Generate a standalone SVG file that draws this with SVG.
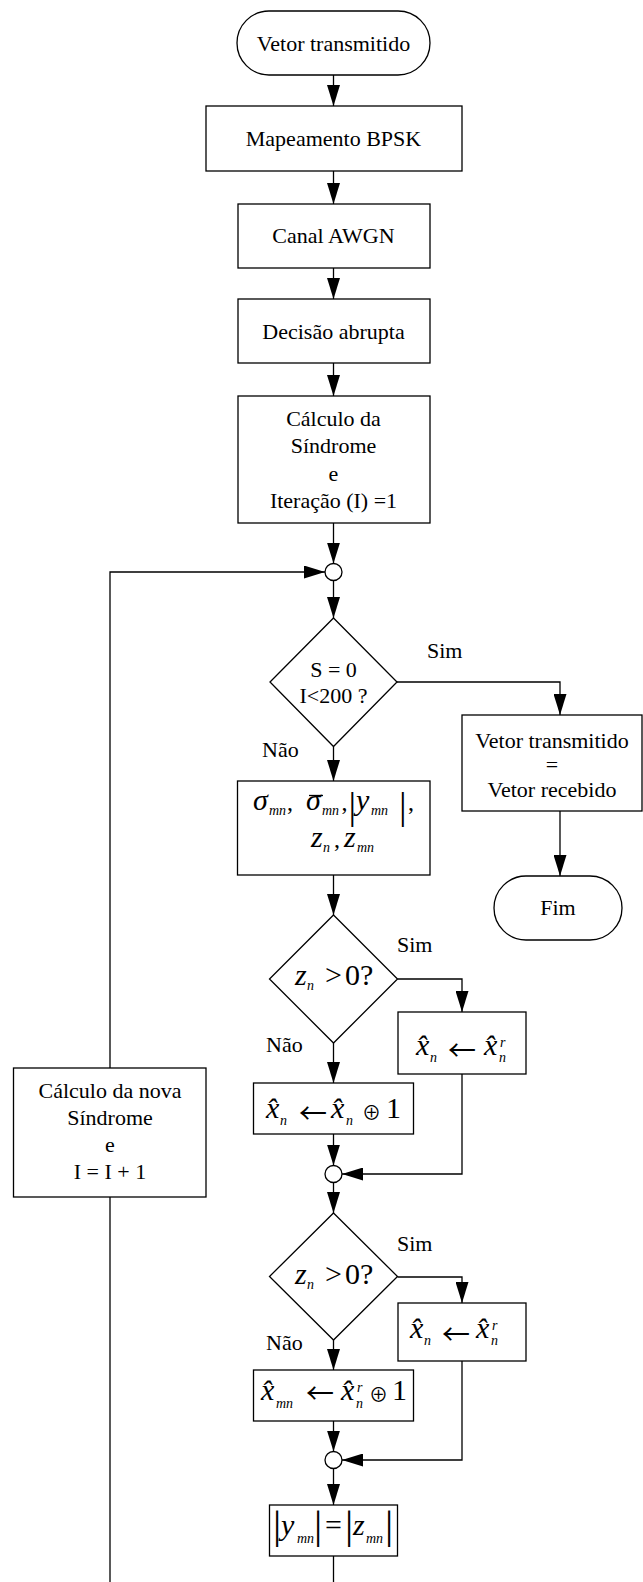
<svg xmlns="http://www.w3.org/2000/svg" width="643" height="1582" viewBox="0 0 643 1582">
<style>
.n{fill:#fff;stroke:#000;stroke-width:1.3}
.c{fill:none;stroke:#000;stroke-width:1.3}
.t{font-family:"Liberation Serif",serif;font-size:22px;text-anchor:middle;fill:#000}
.l{font-family:"Liberation Serif",serif;font-size:22px;fill:#000}
.m{font-family:"Liberation Serif",serif;font-size:30px;font-style:italic;fill:#000}
.s{font-size:14px;font-style:italic}
.u{font-style:normal}
.cm{font-style:normal;font-size:24px}
.ar{font-family:"Noto Sans CJK SC",sans-serif;font-size:28px;font-style:normal}
.op{font-family:"Noto Sans CJK SC",sans-serif;font-size:19px;font-style:normal}
.b{font-style:normal;font-size:38px}
.bb{font-style:normal;font-size:41px}
</style>
<defs>
<marker id="ah" markerUnits="userSpaceOnUse" markerWidth="21" markerHeight="13" refX="21" refY="6.5" orient="auto" viewBox="0 0 21 13">
<path d="M0,0 L21,6.5 L0,13 z" fill="#000"/>
</marker>
</defs>
<g id="connectors">
<path class="c" d="M333.5,75 V106" marker-end="url(#ah)"/>
<path class="c" d="M333.5,171 V204" marker-end="url(#ah)"/>
<path class="c" d="M333.5,268 V299" marker-end="url(#ah)"/>
<path class="c" d="M333.5,363 V396" marker-end="url(#ah)"/>
<path class="c" d="M333.5,523 V563.5" marker-end="url(#ah)"/>
<path class="c" d="M110,1068 V572 H325" marker-end="url(#ah)"/>
<path class="c" d="M110,1582 V1197"/>
<path class="c" d="M333.5,580.5 V618" marker-end="url(#ah)"/>
<path class="c" d="M397,682 H560 V715" marker-end="url(#ah)"/>
<path class="c" d="M333.5,746.5 V781" marker-end="url(#ah)"/>
<path class="c" d="M560,811 V876" marker-end="url(#ah)"/>
<path class="c" d="M333.5,875 V915" marker-end="url(#ah)"/>
<path class="c" d="M397.5,979 H462 V1012" marker-end="url(#ah)"/>
<path class="c" d="M333.5,1043 V1083" marker-end="url(#ah)"/>
<path class="c" d="M333.5,1134 V1165.5" marker-end="url(#ah)"/>
<path class="c" d="M462,1074 V1174 H342" marker-end="url(#ah)"/>
<path class="c" d="M333.5,1182.5 V1213" marker-end="url(#ah)"/>
<path class="c" d="M397.5,1277 H462 V1303" marker-end="url(#ah)"/>
<path class="c" d="M333.5,1340 V1370" marker-end="url(#ah)"/>
<path class="c" d="M333.5,1421 V1451.5" marker-end="url(#ah)"/>
<path class="c" d="M462,1361 V1460 H342" marker-end="url(#ah)"/>
<path class="c" d="M333.5,1468.5 V1505" marker-end="url(#ah)"/>
<path class="c" d="M333.5,1556 V1582"/>
<text class="l" x="427" y="658">Sim</text>
<text class="l" x="262" y="757">Não</text>
<text class="l" x="397" y="952">Sim</text>
<text class="l" x="266" y="1052">Não</text>
<text class="l" x="397" y="1251">Sim</text>
<text class="l" x="266" y="1350">Não</text>
</g>
<g id="start">
<rect class="n" x="237" y="11" width="193" height="64" rx="32" ry="32"/>
<text class="t" x="333.5" y="50.5">Vetor transmitido</text>
</g>
<g id="bpsk">
<rect class="n" x="206" y="106" width="256" height="65"/>
<text class="t" x="333.5" y="146">Mapeamento BPSK</text>
</g>
<g id="awgn">
<rect class="n" x="238" y="204" width="192" height="64"/>
<text class="t" x="333.5" y="243">Canal AWGN</text>
</g>
<g id="decisao">
<rect class="n" x="238" y="299" width="192" height="64"/>
<text class="t" x="333.5" y="338.5">Decisão abrupta</text>
</g>
<g id="calc">
<rect class="n" x="238" y="396" width="192" height="127"/>
<text class="t" x="333.5" y="425.5">Cálculo da</text>
<text class="t" x="333.5" y="453">Síndrome</text>
<text class="t" x="333.5" y="480.5">e</text>
<text class="t" x="333.5" y="507.5">Iteração (I) =1</text>
</g>
<g id="junction1">
<circle class="n" cx="333.5" cy="572" r="8.5"/>
</g>
<g id="decision1">
<polygon class="n" points="333.5,618 397,682 333.5,746.5 270,682"/>
<text class="t" x="333.5" y="677">S = 0</text>
<text class="t" x="333.5" y="703">I&lt;200 ?</text>
</g>
<g id="result">
<rect class="n" x="462" y="715" width="180" height="96"/>
<text class="t" x="552" y="747.5">Vetor transmitido</text>
<text class="t" x="552" y="772">=</text>
<text class="t" x="552" y="796.5">Vetor recebido</text>
</g>
<g id="fim">
<rect class="n" x="494" y="876" width="128" height="64" rx="32" ry="32"/>
<text class="t" x="558" y="915">Fim</text>
</g>
<g id="params">
<rect class="n" x="237.5" y="781" width="192.5" height="94"/>
<line x1="309" y1="795.5" x2="323" y2="795.5" stroke="#000" stroke-width="1.3"/>
<text class="m" y="810"><tspan x="253">σ</tspan><tspan class="s" x="269" y="815">mn</tspan><tspan class="cm" x="287" y="810">,</tspan><tspan x="306">σ</tspan><tspan class="s" x="322" y="815">mn</tspan><tspan class="cm" x="341.5" y="810">,</tspan><tspan class="b" x="348.5" y="819">|</tspan><tspan x="356" y="810">y</tspan><tspan class="s" x="371" y="815">mn</tspan><tspan class="b" x="399" y="819">|</tspan><tspan class="cm" x="408" y="810">,</tspan></text>
<text class="m" y="847"><tspan x="311">z</tspan><tspan class="s" x="323" y="852">n</tspan><tspan class="cm" x="334" y="847">,</tspan><tspan x="344">z</tspan><tspan class="s" x="357" y="852">mn</tspan></text>
</g>
<g id="decision2">
<polygon class="n" points="333.5,915 397.5,979 333.5,1043 269.5,979"/>
<text class="m" y="985"><tspan x="295">z</tspan><tspan class="s" x="307" y="990">n</tspan><tspan class="u" x="325" y="985">&gt;</tspan><tspan class="u" x="345">0?</tspan></text>
</g>
<g id="set1">
<rect class="n" x="398" y="1012" width="128" height="62"/>
<text class="m" y="1055"><tspan x="416">x̂</tspan><tspan class="s" x="430" y="1062">n</tspan><tspan class="ar" x="448" y="1061">←</tspan><tspan x="484" y="1055">x̂</tspan><tspan class="s" x="499" y="1062">n</tspan><tspan class="s" x="500" y="1047">r</tspan></text>
</g>
<g id="flip1">
<rect class="n" x="253.5" y="1083" width="160" height="51"/>
<text class="m" y="1118"><tspan x="266">x̂</tspan><tspan class="s" x="280" y="1125">n</tspan><tspan class="ar" x="299" y="1123.5">←</tspan><tspan x="331" y="1118">x̂</tspan><tspan class="s" x="346" y="1125">n</tspan><tspan class="op" x="362" y="1120">⊕</tspan><tspan class="u" x="386" y="1118">1</tspan></text>
</g>
<g id="junction2">
<circle class="n" cx="333.5" cy="1174" r="8.5"/>
</g>
<g id="decision3">
<polygon class="n" points="333.5,1213 397.5,1276.5 333.5,1340 269.5,1276.5"/>
<text class="m" y="1284"><tspan x="295">z</tspan><tspan class="s" x="307" y="1289">n</tspan><tspan class="u" x="325" y="1284">&gt;</tspan><tspan class="u" x="345">0?</tspan></text>
</g>
<g id="set2">
<rect class="n" x="398" y="1303" width="128" height="58"/>
<text class="m" y="1338"><tspan x="410">x̂</tspan><tspan class="s" x="424" y="1345">n</tspan><tspan class="ar" x="442" y="1344.5">←</tspan><tspan x="476" y="1338">x̂</tspan><tspan class="s" x="491" y="1345">n</tspan><tspan class="s" x="492" y="1330">r</tspan></text>
</g>
<g id="flip2">
<rect class="n" x="253.5" y="1370" width="160" height="51"/>
<text class="m" y="1400"><tspan x="261">x̂</tspan><tspan class="s" x="276" y="1408">mn</tspan><tspan class="ar" x="306" y="1403.5">←</tspan><tspan x="341" y="1400">x̂</tspan><tspan class="s" x="356" y="1408">n</tspan><tspan class="s" x="357" y="1392">r</tspan><tspan class="op" x="369" y="1402">⊕</tspan><tspan class="u" x="392" y="1400">1</tspan></text>
</g>
<g id="junction3">
<circle class="n" cx="333.5" cy="1460" r="8.5"/>
</g>
<g id="absval">
<rect class="n" x="269.5" y="1505" width="128" height="51"/>
<text class="m" y="1535"><tspan class="bb" x="273" y="1538">|</tspan><tspan x="281" y="1535">y</tspan><tspan class="s" x="297" y="1543">mn</tspan><tspan class="bb" x="314" y="1538">|</tspan><tspan class="u" x="325" y="1535">=</tspan><tspan class="bb" x="345" y="1538">|</tspan><tspan x="353" y="1535">z</tspan><tspan class="s" x="366" y="1543">mn</tspan><tspan class="bb" x="385" y="1538">|</tspan></text>
</g>
<g id="newsyndrome">
<rect class="n" x="13.5" y="1068" width="192.5" height="129"/>
<text class="t" x="110" y="1098">Cálculo da nova</text>
<text class="t" x="110" y="1125">Síndrome</text>
<text class="t" x="110" y="1152">e</text>
<text class="t" x="110" y="1179">I = I + 1</text>
</g>
</svg>
